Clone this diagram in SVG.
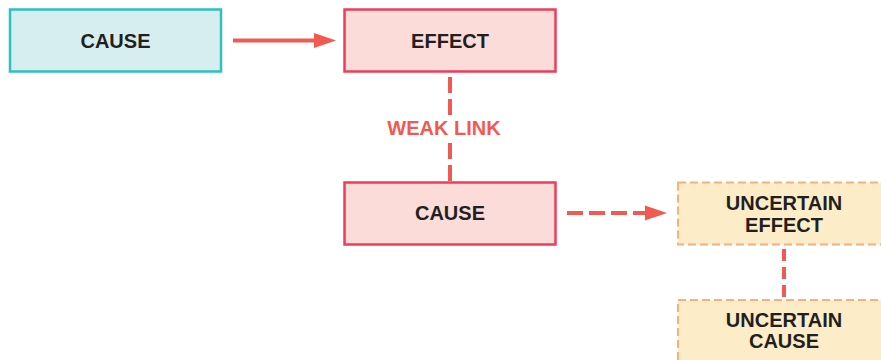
<svg xmlns="http://www.w3.org/2000/svg" width="881" height="360" viewBox="0 0 881 360">
<style>
  .lbl { font-family: "Liberation Sans", Arial, sans-serif; font-weight: bold; font-size: 20px; fill: #231f20; text-anchor: middle; }
  .cause1 { fill: #d7eef0; stroke: #2cc0c0; stroke-width: 2.5; }
  .red { fill: #fcdcd8; stroke: #ee3d5a; stroke-width: 2.5; }
  .unc { fill: #fdecc8; stroke: #f6b080; stroke-width: 2; stroke-dasharray: 8 4; }
  .conn { stroke: #f15a50; stroke-width: 4; fill: none; }
  .dash { stroke-dasharray: 16 6; }
  .weak { font-family: "Liberation Sans", Arial, sans-serif; font-weight: bold; font-size: 20px; fill: #f15a50; text-anchor: middle; }
</style>
<defs>
  <marker id="ah" markerUnits="userSpaceOnUse" markerWidth="24" markerHeight="16" viewBox="0 -8 24 16" refX="6" refY="0" orient="auto">
    <path d="M0,-7.5 L22,0 L0,7.5 z" fill="#f15a50"/>
  </marker>
</defs>
<g id="cause1">
  <rect class="cause1" x="10" y="9.5" width="211" height="62"/>
  <text class="lbl" x="115.5" y="48">CAUSE</text>
</g>
<g id="effect">
  <rect class="red" x="344.5" y="9.5" width="211" height="62"/>
  <text class="lbl" x="450" y="48">EFFECT</text>
</g>
<g id="cause2">
  <rect class="red" x="344.5" y="182.5" width="211" height="62"/>
  <text class="lbl" x="450" y="220">CAUSE</text>
</g>
<g id="uncertain-effect">
  <rect class="unc" x="678" y="182.5" width="212" height="62"/>
  <text class="lbl" x="784" y="210">UNCERTAIN</text>
  <text class="lbl" x="784" y="232">EFFECT</text>
</g>
<g id="uncertain-cause">
  <rect class="unc" x="678" y="300" width="212" height="70"/>
  <text class="lbl" x="784" y="327">UNCERTAIN</text>
  <text class="lbl" x="784" y="348">CAUSE</text>
</g>
<g id="connectors">
  <line class="conn" x1="233" y1="40.5" x2="320" y2="40.5" marker-end="url(#ah)"/>
  <line class="conn dash" x1="450" y1="77" x2="450" y2="116"/>
  <line class="conn dash" x1="450" y1="143" x2="450" y2="182"/>
  <text class="weak" x="444" y="135">WEAK LINK</text>
  <line class="conn dash" x1="567" y1="213" x2="651" y2="213" marker-end="url(#ah)"/>
  <line class="conn dash" x1="784" y1="249" x2="784" y2="300" style="stroke-dasharray: 12 6"/>
</g>
</svg>
